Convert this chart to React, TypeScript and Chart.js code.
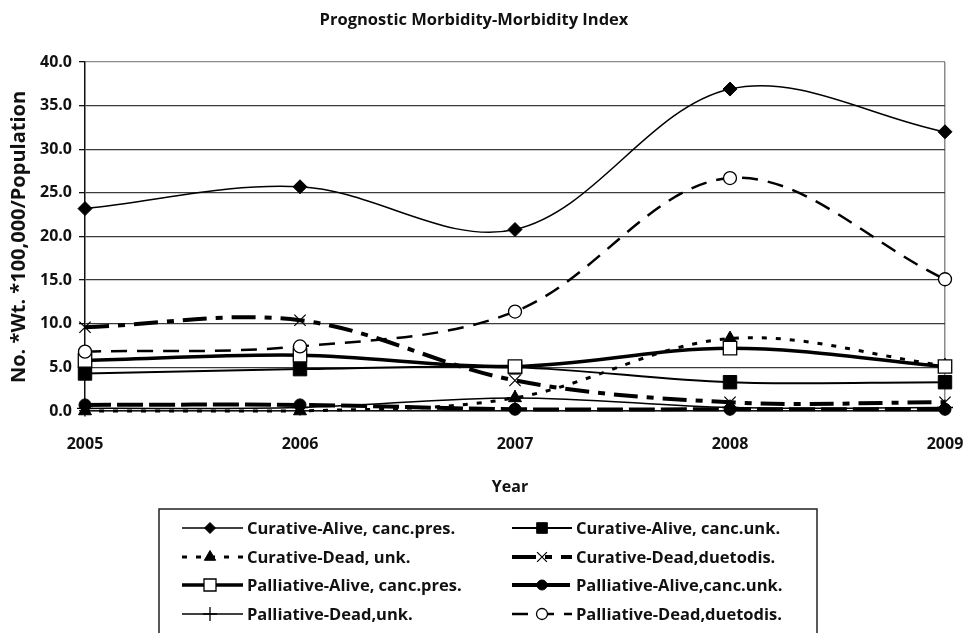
import React, { useEffect, useRef } from 'react';
import { Chart, registerables } from 'chart.js';

Chart.register(...registerables);

// ---- Data ----
const years = ['2005', '2006', '2007', '2008', '2009'];
const seriesNames = [
  'Curative-Alive, canc.pres.',
  'Curative-Alive, canc.unk.',
  'Curative-Dead, unk.',
  'Curative-Dead,duetodis.',
  'Palliative-Alive, canc.pres.',
  'Palliative-Alive,canc.unk.',
  'Palliative-Dead,unk.',
  'Palliative-Dead,duetodis.',
];
const curAliveCancPres = [23.2, 25.7, 20.8, 36.9, 32.0];
const curAliveCancUnk = [4.3, 4.8, 5.0, 3.3, 3.3];
const curDeadUnk = [0.0, 0.0, 1.5, 8.3, 5.2];
const curDeadDueToDis = [9.6, 10.4, 3.5, 1.0, 1.0];
const palAliveCancPres = [5.8, 6.4, 5.1, 7.2, 5.1];
const palAliveCancUnk = [0.7, 0.7, 0.2, 0.2, 0.2];
const palDeadUnk = [0.3, 0.4, 1.5, 0.4, 0.4];
const palDeadDueToDis = [6.8, 7.4, 11.4, 26.7, 15.1];
const seriesValues = [
  curAliveCancPres,
  curAliveCancUnk,
  curDeadUnk,
  curDeadDueToDis,
  palAliveCancPres,
  palAliveCancUnk,
  palDeadUnk,
  palDeadDueToDis,
];
const yMin = 0;
const yMax = 40;
const yStep = 5;

const chartTitle = 'Prognostic Morbidity-Morbidity Index';
const yTitle = 'No. *Wt. *100,000/Population';
const xTitle = 'Year';

// ---- Styles ----
type Sty = { dash: number[]; width: number; point: string; r: number; fill: string; bw: number; lr: number };
const styles: Sty[] = [
  { dash: [], width: 1.5, point: 'rectRot', r: 7, fill: '#000', bw: 1, lr: 5.5 },
  { dash: [], width: 2, point: 'rect', r: 9.5, fill: '#000', bw: 1, lr: 7.5 },
  { dash: [5, 9], width: 3, point: 'triangle', r: 7.5, fill: '#000', bw: 1, lr: 6.5 },
  { dash: [24, 9, 7, 9], width: 4, point: 'crossRot', r: 8, fill: '#000', bw: 1.2, lr: 7 },
  { dash: [], width: 3.5, point: 'rect', r: 9.5, fill: '#fff', bw: 1.3, lr: 8.5 },
  { dash: [26, 6], width: 4, point: 'circle', r: 6, fill: '#000', bw: 1, lr: 5 },
  { dash: [], width: 1.5, point: 'cross', r: 8, fill: '#000', bw: 1.3, lr: 7 },
  { dash: [16, 10], width: 2.5, point: 'circle', r: 6.5, fill: '#fff', bw: 1.3, lr: 5.5 },
];

const FONT = '"Open Sans", sans-serif';

function drawMarker(ctx: CanvasRenderingContext2D, s: Sty, x: number, y: number) {
  const r = s.lr;
  ctx.save();
  ctx.setLineDash([]);
  ctx.lineWidth = s.bw;
  ctx.fillStyle = s.fill;
  ctx.strokeStyle = '#000';
  ctx.beginPath();
  switch (s.point) {
    case 'rectRot':
      ctx.moveTo(x, y - r);
      ctx.lineTo(x + r, y);
      ctx.lineTo(x, y + r);
      ctx.lineTo(x - r, y);
      ctx.closePath();
      ctx.fill();
      ctx.stroke();
      break;
    case 'rect': {
      const h = r * 0.707;
      ctx.rect(x - h, y - h, 2 * h, 2 * h);
      ctx.fill();
      ctx.stroke();
      break;
    }
    case 'triangle':
      ctx.moveTo(x, y - r);
      ctx.lineTo(x + r * 0.866, y + r * 0.5);
      ctx.lineTo(x - r * 0.866, y + r * 0.5);
      ctx.closePath();
      ctx.fill();
      ctx.stroke();
      break;
    case 'circle':
      ctx.arc(x, y, r, 0, Math.PI * 2);
      ctx.fill();
      ctx.stroke();
      break;
    case 'cross':
      ctx.moveTo(x, y - r);
      ctx.lineTo(x, y + r);
      ctx.moveTo(x - r, y);
      ctx.lineTo(x + r, y);
      ctx.stroke();
      break;
    case 'crossRot': {
      const d = r * 0.707;
      ctx.moveTo(x - d, y - d);
      ctx.lineTo(x + d, y + d);
      ctx.moveTo(x + d, y - d);
      ctx.lineTo(x - d, y + d);
      ctx.stroke();
      break;
    }
  }
  ctx.restore();
}

const decorPlugin = {
  id: 'decor',
  afterDraw(chart: any) {
    const ctx: CanvasRenderingContext2D = chart.ctx;
    ctx.save();
    ctx.fillStyle = '#111';
    ctx.textAlign = 'center';
    ctx.textBaseline = 'middle';
    // title
    ctx.font = `bold 16.5px ${FONT}`;
    ctx.fillText(chartTitle, 474, 20);
    // x title
    ctx.font = `bold 16px ${FONT}`;
    ctx.fillText(xTitle, 510, 487);
    // y title
    ctx.save();
    ctx.translate(19, 237);
    ctx.rotate(-Math.PI / 2);
    ctx.font = `bold 20px ${FONT}`;
    ctx.fillText(yTitle, 0, 0);
    ctx.restore();

    // legend box
    ctx.lineWidth = 1.5;
    ctx.strokeStyle = '#222';
    ctx.strokeRect(159, 509, 658, 140);

    const rows = [528, 557, 585, 614];
    const cols = [
      { x0: 182, x1: 243, mx: 210, tx: 247 },
      { x0: 512, x1: 572, mx: 542, tx: 576 },
    ];
    ctx.textAlign = 'left';
    ctx.font = `bold 16.5px ${FONT}`;
    seriesNames.forEach((name, i) => {
      const c = cols[i % 2];
      const y = rows[Math.floor(i / 2)];
      const s = styles[i];
      ctx.save();
      ctx.strokeStyle = '#000';
      ctx.lineWidth = s.width;
      ctx.setLineDash(s.dash);
      ctx.beginPath();
      ctx.moveTo(c.x0, y);
      ctx.lineTo(c.x1, y);
      ctx.stroke();
      ctx.restore();
      drawMarker(ctx, s, c.mx, y);
      ctx.fillStyle = '#111';
      ctx.fillText(name, c.tx, y + 1);
    });
    ctx.restore();
  },
};

export default function App() {
  const ref = useRef<HTMLCanvasElement | null>(null);
  useEffect(() => {
    if (!ref.current) return;
    const datasets = seriesNames.map((name, i) => {
      const s = styles[i];
      return {
        label: name,
        data: seriesValues[i],
        borderColor: '#000',
        borderWidth: s.width,
        borderDash: s.dash,
        backgroundColor: s.fill,
        pointStyle: s.point,
        pointRadius: s.r,
        pointBackgroundColor: s.fill,
        pointBorderColor: '#000',
        pointBorderWidth: s.bw,
        tension: 0.35,
        fill: false,
        clip: false as any,
        order: 8 - i,
      };
    });
    const chart = new Chart(ref.current, {
      type: 'line',
      data: { labels: years, datasets },
      options: {
        responsive: false,
        animation: false,
        devicePixelRatio: 1,
        layout: { padding: { top: 62, right: 0, bottom: 162, left: 0 } },
        plugins: { legend: { display: false }, title: { display: false }, tooltip: { enabled: false } },
        scales: {
          x: {
            type: 'category',
            offset: false,
            afterFit: (scale: any) => {
              scale.height = 60;
              scale.paddingRight = 18;
            },
            grid: {
              drawTicks: false,
              color: (c: any) => (c.index === years.length - 1 ? '#8a8a8a' : 'rgba(0,0,0,0)'),
              lineWidth: 1.5,
            },
            border: { color: '#111', width: 1.5 },
            ticks: {
              color: '#111',
              font: { family: FONT, size: 16, weight: 'bold' },
              padding: 24,
              maxRotation: 0,
            },
          },
          y: {
            min: yMin,
            max: yMax,
            afterFit: (scale: any) => {
              scale.width = 85;
            },
            grid: {
              color: (c: any) => (c.tick && c.tick.value === yMax ? '#8a8a8a' : '#3a3a3a'),
              lineWidth: 1.3,
              tickLength: 6,
              tickColor: '#111',
            },
            border: { color: '#111', width: 1.5 },
            ticks: {
              stepSize: yStep,
              color: '#111',
              padding: 7,
              font: { family: FONT, size: 16, weight: 'bold' },
              callback: (v: any) => Number(v).toFixed(1),
            },
          },
        },
      },
      plugins: [decorPlugin],
    } as any);
    return () => chart.destroy();
  }, []);
  return (
    <div style={{ position: 'absolute', left: 0, top: 0, width: 963, height: 633, background: '#fff' }}>
      <canvas ref={ref} width={963} height={633} style={{ width: 963, height: 633, display: 'block' }} />
    </div>
  );
}
